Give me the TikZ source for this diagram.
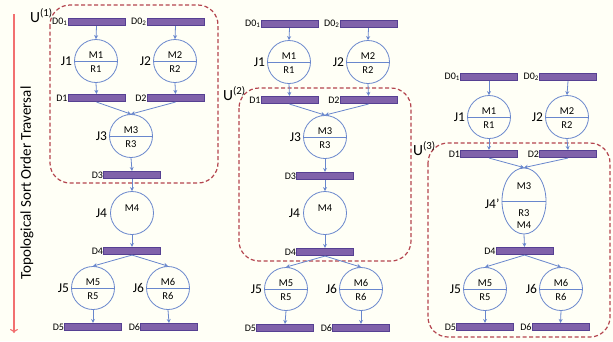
\documentclass[tikz,border=0pt]{standalone}
\usepackage{fontspec}
\setmainfont{Carlito}
\usetikzlibrary{positioning,shapes.multipart,shapes.geometric,arrows.meta}

\definecolor{paper}{RGB}{255,255,246}
\definecolor{barfill}{RGB}{128,98,170}
\definecolor{barline}{RGB}{86,64,146}
\definecolor{jobline}{RGB}{105,135,205}
\definecolor{unitred}{RGB}{180,68,78}
\definecolor{orderred}{RGB}{242,112,112}

\begin{document}
\begin{tikzpicture}[x=1pt,y=-1pt,
	bar/.style={draw=barline,fill=barfill,line width=0.6pt,minimum width=57pt,minimum height=7.5pt,inner sep=0pt},
	dname/.style={inner sep=0pt,font=\fontsize{10}{10}\selectfont},
	job/.style={circle split,draw=jobline,line width=0.8pt,minimum size=43pt,inner xsep=1pt,inner ysep=2pt,font=\fontsize{10.5}{10.5}\selectfont},
	plainjob/.style={circle,draw=jobline,line width=0.8pt,minimum size=43pt,inner sep=0pt},
	jobtext/.style={inner sep=0pt,font=\fontsize{10.5}{10.5}\selectfont},
	jname/.style={inner sep=0pt,font=\fontsize{13.5}{13.5}\selectfont},
	flow/.style={draw=jobline,line width=0.8pt,-{Stealth[length=4pt,width=4pt]}},
	unit/.style={draw=unitred,line width=1.2pt,dash pattern=on 4pt off 2.5pt,rounded corners=20pt},
	uname/.style={inner sep=0pt,anchor=base west,font=\fontsize{15.5}{15.5}\selectfont}]
	
	\useasboundingbox (0,0) rectangle (613,341);
	\fill[paper] (0,0) rectangle (613,341);
	
	\coordinate (ordertop) at (14,14);
	\coordinate (orderend) at (14,333);
	\draw[orderred,line width=1.2pt,-{To[length=4pt,width=8pt]}] (ordertop) -- (orderend);
	\node[rotate=90,inner sep=0pt,font=\fontsize{15}{15}\selectfont] (order) at (27,183) {Topological Sort Order Traversal};
	
	\draw[unit] (50,5) rectangle (218,183);
	\draw[unit] (239,88) rectangle (411,261);
	\draw[unit] (428,143) rectangle (610,337);
	\node[uname] (u1) at (30,22) {U\textsuperscript{(1)}};
	\node[uname] (u2) at (223,100) {U\textsuperscript{(2)}};
	\node[uname] (u3) at (413,155) {U\textsuperscript{(3)}};
	
	\foreach \n/\x/\y/\t in {
		a-d01/96.5/22/{D0\textsubscript{1}}, a-d02/175.5/22/{D0\textsubscript{2}},
		a-d1/96.5/98/D1, a-d2/175.5/98/D2, a-d3/132/175/D3, a-d4/132/251/D4,
		a-d5/93/327/D5, a-d6/169/327/D6,
		b-d01/289.5/24/{D0\textsubscript{1}}, b-d02/368.5/24/{D0\textsubscript{2}},
		b-d1/289.5/100/D1, b-d2/368.5/100/D2, b-d3/325/176/D3, b-d4/325/252/D4,
		b-d5/285/328/D5, b-d6/361/328/D6,
		c-d01/489/77/{D0\textsubscript{1}}, c-d02/568/77/{D0\textsubscript{2}},
		c-d1/489/154/D1, c-d2/568/154/D2, c-d4/524.5/251/D4,
		c-d5/485/327/D5, c-d6/560.5/327/D6}
	{
		\node[bar] (\n) at (\x,\y) {};
		\node[dname,left=0pt of \n] (\n-name) {\t};
	}
	
	\foreach \n/\x/\y/\k in {
		a-j1/96/61/1, a-j2/175/61/2, a-j3/131/136/3, a-j5/93/288/5, a-j6/168/288/6,
		b-j1/289/62/1, b-j2/368/62/2, b-j3/325/137/3, b-j5/286/289/5, b-j6/361/289/6,
		c-j1/489/117/1, c-j2/567/117/2, c-j5/485/289/5, c-j6/561/289/6}
	{
		\node[job] (\n) at (\x,\y) {M\k \nodepart{lower} \rule{0pt}{9pt}R\k};
		\node[jname,left=2pt of \n] (\n-name) {J\k};
	}
	
	\foreach \n/\x/\y in {a-j4/132/213, b-j4/325/213}
	{
		\node[plainjob] (\n) at (\x,\y) {};
		\node[jobtext] (\n-text) at ([yshift=5pt]\n.center) {M4};
		\node[jname,left=3pt of \n] (\n-name) {J4};
	}
	
	\node[ellipse,draw=jobline,line width=0.8pt,minimum width=44pt,minimum height=66pt,inner sep=0pt] (c-j4) at (524,201) {};
	\draw[jobline,line width=0.8pt] (c-j4.west) -- (c-j4.east);
	\node[jobtext] (c-j4-top) at ([yshift=15pt]c-j4.center) {M3};
	\node[jobtext] (c-j4-mid) at ([yshift=-12pt]c-j4.center) {R3};
	\node[jobtext] (c-j4-low) at ([yshift=-24pt]c-j4.center) {M4};
	\node[jname,left=2pt of c-j4,yshift=-3pt] (c-j4-name) {J4'};
	
	\foreach \p in {a,b}
		\foreach \s/\e in {d01/j1, d02/j2, j1/d1, j2/d2, d1/j3, d2/j3, j3/d3, d3/j4, j4/d4, d4/j5, d4/j6, j5/d5, j6/d6}
			\draw[flow] (\p-\s.south) -- (\p-\e.north);
	\foreach \s/\e in {d01/j1, d02/j2, j1/d1, j2/d2, d1/j4, d2/j4, j4/d4, d4/j5, d4/j6, j5/d5, j6/d6}
		\draw[flow] (c-\s.south) -- (c-\e.north);
	
\end{tikzpicture}
\end{document}
